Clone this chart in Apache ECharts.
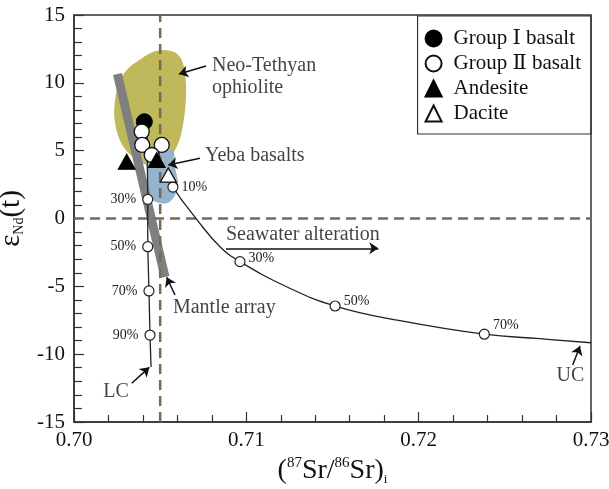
<!DOCTYPE html>
<html>
<head>
<meta charset="utf-8">
<script src="https://cdn.jsdelivr.net/npm/echarts@6/dist/echarts.min.js"></script>
<style>
html, body { margin: 0; padding: 0; background: #fff; }
#chart { width: 609px; height: 489px; }
</style>
</head>
<body>
<div id="chart"></div>
<script>
const FONT = '"Liberation Serif", "DejaVu Serif", "Times New Roman", serif'

// axis ranges and tick labels
const xMin = 0.70, xMax = 0.73
const yMin = -15, yMax = 15
const xTickLabels = ['0.70', '0.71', '0.72', '0.73']
const yTickLabels = ['-15', '-10', '-5', '0', '5', '10', '15']

// samples: [87Sr/86Sr, eNd]
const groupIX = [0.70408]
const groupIY = [7.13]
const groupIIX = [0.70393, 0.70396, 0.70509, 0.70451]
const groupIIY = [6.40, 5.42, 5.42, 4.68]
const andesiteX = [0.70306, 0.70480]
const andesiteY = [4.19, 4.31]
const daciteX = [0.70547]
const daciteY = [3.20]

// mixing curve towards lower crust
const lcX = [0.70424, 0.70428, 0.70428, 0.70435, 0.70441, 0.70447]
const lcY = [6.0, 1.41, -2.08, -5.34, -8.59, -10.94]
const lcPctX = [0.70428, 0.70428, 0.70435, 0.70441]
const lcPctY = [1.41, -2.08, -5.34, -8.59]
const lcPct = ['30%', '50%', '70%', '90%']

// mixing curve towards upper crust
const ucX = [0.70547, 0.70574, 0.70712, 0.70847, 0.70963, 0.71234, 0.71515, 0.71892, 0.72381, 0.72704, 0.73]
const ucY = [3.20, 2.32, -0.06, -2.08, -3.18, -5.03, -6.45, -7.53, -8.53, -8.86, -9.16]
const ucPctX = [0.70574, 0.70963, 0.71515, 0.72381]
const ucPctY = [2.32, -3.18, -6.45, -8.53]
const ucPct = ['10%', '30%', '50%', '70%']
const ucPctLift = [0, -3, -5, -9]

// fields
const ophX = [0.70460, 0.70557, 0.70615, 0.70644, 0.70650, 0.70634, 0.70605, 0.70547, 0.70480, 0.70383, 0.70286, 0.70238, 0.70238, 0.70267, 0.70315, 0.70364]
const ophY = [12.29, 12.37, 11.92, 10.70, 8.98, 7.02, 5.54, 4.31, 3.82, 4.19, 5.29, 7.02, 8.73, 10.21, 11.07, 11.55]
const yebaX = [0.70441, 0.70569, 0.70586, 0.70603, 0.70557, 0.70489, 0.70441, 0.70424]
const yebaY = [5.05, 5.05, 3.82, 2.34, 1.24, 1.16, 1.61, 3.08]

// mantle array band
const mantleX = [0.70252, 0.70528]
const mantleY = [10.65, -4.31]

// reference lines
const refX = 0.705
const refY = 0

// annotations
const noteText = ['Neo-Tethyan\nophiolite', 'Yeba basalts', 'Seawater alteration', 'Mantle array', 'LC', 'UC']
const noteX = [0.70801, 0.70760, 0.70882, 0.70574, 0.70244, 0.72881]
const noteY = [10.43, 4.61, -1.22, -6.60, -12.79, -11.61]
const noteAlign = ['left', 'left', 'left', 'left', 'center', 'center']

const arrowFromX = [0.70766, 0.70731, 0.70882, 0.70586, 0.70335, 0.72894]
const arrowFromY = [11.24, 4.44, -2.20, -5.64, -12.14, -10.80]
const arrowToX = [0.70609, 0.70547, 0.71766, 0.70538, 0.70437, 0.72936]
const arrowToY = [10.65, 3.94, -2.20, -4.33, -10.97, -9.40]

const xy = (xs, ys) => xs.map((x, i) => [x, ys[i]])

const blob = (name, xs, ys, color, z) => ({
	type: 'custom',
	name: name,
	z: z,
	silent: true,
	data: xy(xs, ys),
	renderItem: (params, api) => {
		if (params.dataIndex !== 0) return null
		const pts = xs.map((x, i) => api.coord([x, ys[i]]))
		return {
			type: 'polygon',
			shape: { points: pts, smooth: 0.35 },
			style: { fill: color }
		}
	}
})

const dashed = (name, data) => ({
	type: 'line',
	name: name,
	z: 4,
	silent: true,
	symbol: 'none',
	data: data,
	lineStyle: { color: '#7b6857', width: 2.5, type: [10, 6] }
})

const chart = echarts.init(document.getElementById('chart'))

const option = {
	animation: false,
	grid: {
		left: 74, right: 18, top: 15, bottom: 67,
		outerBoundsMode: 'none',
		containLabel: false,
		show: true, borderColor: '#333', borderWidth: 1.5
	},
	legend: {
		data: ['Group Ⅰ basalt', 'Group Ⅱ basalt', 'Andesite', 'Dacite'],
		orient: 'vertical',
		right: 18,
		top: 16,
		borderColor: '#333',
		borderWidth: 1.2,
		padding: [12, 10, 10, 7],
		itemWidth: 16,
		itemHeight: 16,
		itemGap: 4,
		textStyle: { fontFamily: FONT, fontSize: 21, color: '#111', padding: [0, 0, 0, 7] }
	},
	xAxis: {
		type: 'value',
		min: xMin,
		max: xMax,
		interval: 0.01,
		axisLine: { onZero: false, lineStyle: { color: '#333', width: 1.5 } },
		axisTick: { inside: true, length: 10, lineStyle: { color: '#333', width: 1.2 } },
		minorTick: { show: true, splitNumber: 5, length: 7, lineStyle: { color: '#333', width: 1.2 } },
		splitLine: { show: false },
		axisLabel: {
			formatter: v => xTickLabels[Math.round((v - xMin) / 0.01)],
			fontFamily: FONT, fontSize: 21, color: '#111', margin: 8
		},
		name: '{m|(}{p|87}{m|Sr/}{p|86}{m|Sr)}{b|i}',
		nameLocation: 'middle',
		nameGap: 27,
		nameTextStyle: {
			rich: {
				m: { fontFamily: FONT, fontSize: 28, color: '#111', lineHeight: 30 },
				p: { fontFamily: FONT, fontSize: 15, color: '#111', lineHeight: 15, verticalAlign: 'top' },
				b: { fontFamily: FONT, fontSize: 13, color: '#111', lineHeight: 13, verticalAlign: 'bottom' }
			}
		}
	},
	yAxis: {
		type: 'value',
		min: yMin,
		max: yMax,
		interval: 5,
		axisLine: { onZero: false, lineStyle: { color: '#333', width: 1.5 } },
		axisTick: { inside: true, length: 10, lineStyle: { color: '#333', width: 1.2 } },
		minorTick: { show: true, splitNumber: 5, length: 8, lineStyle: { color: '#333', width: 1.2 } },
		splitLine: { show: false },
		axisLabel: {
			formatter: v => yTickLabels[Math.round((v - yMin) / 5)],
			fontFamily: FONT, fontSize: 21, color: '#111', margin: 9
		},
		name: '{e|ε}{s|Nd}{e|(t)}',
		nameLocation: 'middle',
		nameRotate: 90,
		nameGap: 42,
		nameTextStyle: {
			rich: {
				e: { fontFamily: FONT, fontSize: 29, color: '#111', lineHeight: 30 },
				s: { fontFamily: FONT, fontSize: 14, color: '#111', lineHeight: 15, verticalAlign: 'bottom' }
			}
		}
	},
	series: [
		blob('ophiolite', ophX, ophY, '#bfb95c', 1),
		blob('yeba', yebaX, yebaY, '#95b4cb', 2),
		{
			type: 'line',
			name: 'mantle',
			z: 3,
			silent: true,
			symbol: 'none',
			data: xy(mantleX, mantleY),
			lineStyle: { color: '#7f7f7f', width: 9, cap: 'butt' }
		},
		dashed('refV', [[refX, yMin], [refX, yMax]]),
		dashed('refH', [[xMin, refY], [xMax, refY]]),
		{
			type: 'line',
			name: 'lc',
			z: 5,
			silent: true,
			symbol: 'none',
			data: xy(lcX, lcY),
			lineStyle: { color: '#222', width: 1.3 }
		},
		{
			type: 'line',
			name: 'uc',
			z: 5,
			silent: true,
			symbol: 'none',
			smooth: 0.45,
			data: xy(ucX, ucY),
			lineStyle: { color: '#222', width: 1.3 }
		},
		{
			type: 'scatter',
			name: 'lcPct',
			z: 6,
			symbolSize: 10,
			data: lcPct.map((t, i) => ({ name: t, value: [lcPctX[i], lcPctY[i]] })),
			itemStyle: { color: '#fff', borderColor: '#222', borderWidth: 1.2, opacity: 1 },
			label: { show: true, position: 'left', distance: 6, formatter: '{b}', fontFamily: FONT, fontSize: 14, color: '#222' }
		},
		{
			type: 'scatter',
			name: 'ucPct',
			z: 6,
			symbolSize: 10,
			data: ucPct.map((t, i) => ({
				name: t,
				value: [ucPctX[i], ucPctY[i]],
				label: { offset: [0, ucPctLift[i]] }
			})),
			itemStyle: { color: '#fff', borderColor: '#222', borderWidth: 1.2, opacity: 1 },
			label: { show: true, position: 'right', distance: 3, formatter: '{b}', fontFamily: FONT, fontSize: 14, color: '#222' }
		},
		{
			type: 'scatter',
			name: 'Group Ⅰ basalt',
			z: 7,
			symbol: 'circle',
			symbolSize: 16,
			data: xy(groupIX, groupIY),
			itemStyle: { color: '#000', borderColor: '#000', borderWidth: 1, opacity: 1 }
		},
		{
			type: 'scatter',
			name: 'Group Ⅱ basalt',
			z: 8,
			symbol: 'circle',
			symbolSize: 15,
			data: xy(groupIIX, groupIIY),
			itemStyle: { color: '#fff', borderColor: '#111', borderWidth: 1.3, opacity: 1 }
		},
		{
			type: 'scatter',
			name: 'Andesite',
			z: 9,
			symbol: 'triangle',
			symbolSize: [17, 15],
			data: xy(andesiteX, andesiteY),
			itemStyle: { color: '#000', borderColor: '#000', borderWidth: 1, opacity: 1 }
		},
		{
			type: 'scatter',
			name: 'Dacite',
			z: 10,
			symbol: 'triangle',
			symbolSize: [16, 14],
			data: xy(daciteX, daciteY),
			itemStyle: { color: '#fff', borderColor: '#111', borderWidth: 1.3, opacity: 1 }
		},
		{
			type: 'lines',
			name: 'arrows',
			coordinateSystem: 'cartesian2d',
			z: 11,
			silent: true,
			symbol: ['none', 'arrow'],
			symbolSize: 9,
			data: arrowFromX.map((x, i) => ({ coords: [[x, arrowFromY[i]], [arrowToX[i], arrowToY[i]]] })),
			lineStyle: { color: '#111', width: 1.5, opacity: 1 }
		},
		{
			type: 'scatter',
			name: 'notes',
			z: 12,
			silent: true,
			symbolSize: 0,
			data: noteText.map((t, i) => ({
				name: t,
				value: [noteX[i], noteY[i]],
				label: noteAlign[i] === 'left'
					? { position: 'right', distance: 0 }
					: { position: 'inside' }
			})),
			label: { show: true, formatter: '{b}', fontFamily: FONT, fontSize: 20, color: '#111', lineHeight: 22 }
		}
	]
}

chart.setOption(option)
</script>
</body>
</html>
